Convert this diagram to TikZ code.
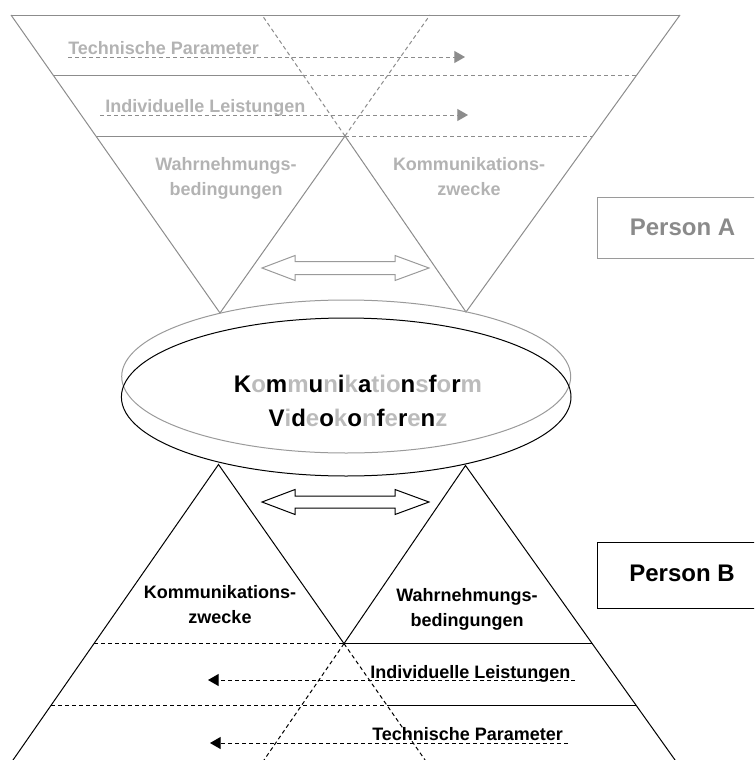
\documentclass[tikz,border=0pt]{standalone}
\usepackage{fontspec}
\setmainfont{Liberation Sans}
\usetikzlibrary{arrows.meta}
\definecolor{lgrey}{HTML}{B3B3B3}
\definecolor{mgrey}{HTML}{8C8C8C}
\definecolor{pgrey}{HTML}{8A8A8A}
\definecolor{egrey}{HTML}{9A9A9A}
\definecolor{kgrey}{HTML}{BBBBBB}
\newcommand\gl[1]{\textcolor{kgrey}{#1}}
\begin{document}
\begin{tikzpicture}[x=0.75pt,y=-0.75pt,
  gline/.style={draw=mgrey, line width=0.75pt},
  bline/.style={draw=black, line width=0.75pt},
  dsh/.style={dash pattern=on 3pt off 2.25pt},
  gtip/.style={-{Triangle[length=8pt,width=9pt]}},
  lbl/.style={font=\bfseries\fontsize{13.5}{18.75}\selectfont, align=center, inner sep=0pt},
  glbl/.style={lbl, text=lgrey},
  big/.style={font=\bfseries\fontsize{18}{26}\selectfont, align=center, inner sep=0pt},
  pbox/.style={line width=0.75pt}
]
\useasboundingbox (0,0) rectangle (754,760);
\begin{scope}
\clip (0,0) rectangle (754,760);

% ---------- Person A (top, grey) ----------
\draw[gline] (11,15) -- (220,313) -- (345,136);
\draw[gline,dsh] (345,136) -- (430,15);
\draw[gline] (680,15) -- (466,312) -- (345,136);
\draw[gline,dsh] (345,136) -- (262,15);
\draw[gline] (11,15) -- (680,15);
\draw[gline] (53,75) -- (303,75);
\draw[gline,dsh] (303,75) -- (637,75);
\draw[gline] (96,136) -- (345,136);
\draw[gline,dsh] (345,136) -- (593,136);

\node[glbl, anchor=base west] (tTP) at (68,54.5) {Technische Parameter};
\node[glbl, anchor=base west] (tIL) at (105,112.5) {Individuelle Leistungen};
\coordinate (tTPs) at (68,57);
\coordinate (tTPe) at (465,57);
\coordinate (tILs) at (100,115);
\coordinate (tILe) at (468,115);
\draw[gline,dsh,gtip,mgrey] (tTPs) -- (tTPe);
\draw[gline,dsh,gtip,mgrey] (tILs) -- (tILe);

\node[glbl, anchor=north] (tWB) at (226,156.7) {Wahrnehmungs-\\bedingungen};
\node[glbl, anchor=north] (tKZ) at (469,156.7) {Kommunikations-\\zwecke};

\draw[draw=egrey, line width=0.75pt] (262,268) -- (295,255.5) -- (295,261.5) -- (395,261.5)
  -- (395,255.5) -- (429,268) -- (395,280.5) -- (395,274.5) -- (295,274.5) -- (295,280.5) -- cycle;

\node[draw=egrey, pbox, minimum width=171*0.75pt, minimum height=61*0.75pt, anchor=north west,
  inner sep=0pt] (boxA) at (597,197) {};
\node[font=\bfseries\fontsize{18}{22}\selectfont, text=pgrey, inner sep=0pt] (pA) at (682.5,227.5) {Person A};

% ---------- ellipses ----------
\draw[draw=egrey, line width=0.75pt] (346.2,376.5) ellipse [x radius=224.5, y radius=76.5];
\draw[bline] (346.2,397) ellipse [x radius=224.8, y radius=79];
\node[big] (kf) at (358,401) {K\gl{o}m\gl{m}u\gl{n}i\gl{k}a\gl{tio}n\gl{s}f\gl{o}r\gl{m}\\
  V\gl{i}d\gl{e}o\gl{k}o\gl{n}f\gl{e}r\gl{e}n\gl{z}};

% ---------- Person B (bottom, black) ----------
\draw[bline] (2.6,775) -- (218.5,464.5) -- (344,643.6);
\draw[bline,dsh] (344,643.6) -- (435.5,775);
\draw[bline] (685.7,775) -- (465.5,465.5) -- (344,643.6);
\draw[bline,dsh] (344,643.6) -- (253.7,775);
\draw[bline,dsh] (94,643.6) -- (344,643.6);
\draw[bline] (344,643.6) -- (592,643.6);
\draw[bline,dsh] (51,705) -- (387,705);
\draw[bline] (387,705) -- (636,705);

\draw[bline] (262,502) -- (295,489.5) -- (295,496) -- (395,496)
  -- (395,489.5) -- (429,502) -- (395,514.5) -- (395,508) -- (295,508) -- (295,514.5) -- cycle;

\node[lbl, anchor=north] (bKZ) at (220,585) {Kommunikations-\\zwecke};
\node[lbl, anchor=north] (bWB) at (467,588) {Wahrnehmungs-\\bedingungen};

\node[lbl, anchor=base west] (bIL) at (370,678) {Individuelle Leistungen};
\node[lbl, anchor=base west] (bTP) at (372,740.5) {Technische Parameter};
\coordinate (bILs) at (575,680);
\coordinate (bILe) at (208,680);
\coordinate (bTPs) at (568,743);
\coordinate (bTPe) at (210,743);
\draw[bline,dsh,gtip] (bILs) -- (bILe);
\draw[bline,dsh,gtip] (bTPs) -- (bTPe);

\node[draw=black, pbox, minimum width=171*0.75pt, minimum height=66*0.75pt, anchor=north west,
  inner sep=0pt] (boxB) at (597,542) {};
\node[font=\bfseries\fontsize{18}{22}\selectfont, inner sep=0pt] (pB) at (682,573) {Person B};
\end{scope}
\end{tikzpicture}
\end{document}
